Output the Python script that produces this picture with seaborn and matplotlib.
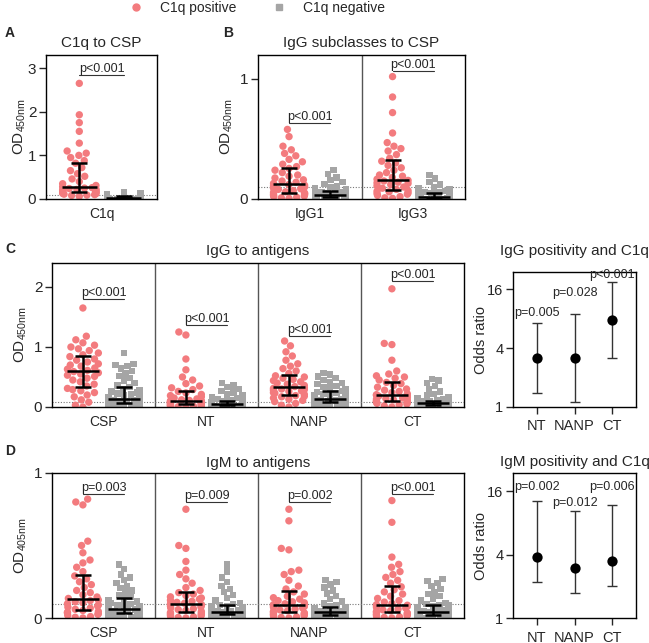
import numpy as np
import pandas as pd
import matplotlib
matplotlib.use("Agg")
import matplotlib.pyplot as plt
from matplotlib.lines import Line2D
from matplotlib.ticker import NullLocator
import seaborn as sns
import warnings
warnings.filterwarnings("ignore")

# ---------------- data ----------------
GROUPS = ["C1q positive", "C1q negative"]

# A: C1q to CSP
c1q_pos = [0.06,0.08,0.09,0.10,0.11,0.12,0.13,0.14,0.15,0.16,
           0.17,0.18,0.19,0.20,0.21,0.22,0.23,0.24,0.25,0.26,
           0.28,0.31,0.35,0.40,0.46,0.52,0.58,0.65,0.72,0.82,
           0.88,0.95,1.00,1.05,1.10,1.28,1.55,1.75,1.93,2.65]
c1q_neg = [0.000,0.002,0.004,0.005,0.006,0.007,0.008,0.008,0.009,0.009,0.010,0.010,
           0.012,0.014,0.016,0.018,0.020,0.021,0.022,0.024,0.025,0.026,0.028,0.030,
           0.031,0.033,0.035,0.037,0.040,0.042,0.045,0.047,0.050,0.053,0.056,0.060,
           0.062,0.065,0.068,0.072,0.076,0.080,0.085,0.090,0.098,0.110,0.125,0.150]

# B: IgG subclasses to CSP
igg1_pos = [0.005,0.01,0.015,0.02,0.025,0.03,0.035,0.04,0.045,0.05,
            0.055,0.06,0.07,0.08,0.085,0.09,0.10,0.11,0.115,0.12,
            0.13,0.14,0.15,0.16,0.175,0.19,0.20,0.22,0.24,0.255,
            0.27,0.29,0.31,0.33,0.36,0.38,0.41,0.44,0.52,0.58]
igg1_neg = [0.000,0.002,0.004,0.005,0.006,0.008,0.009,0.010,0.011,0.012,0.013,0.015,
            0.016,0.017,0.018,0.019,0.020,0.022,0.023,0.024,0.025,0.026,0.028,0.029,
            0.031,0.033,0.035,0.037,0.040,0.043,0.046,0.050,0.053,0.056,0.060,0.064,
            0.070,0.075,0.080,0.090,0.100,0.110,0.125,0.140,0.160,0.180,0.210,0.240]
igg3_pos = [0.005,0.01,0.02,0.03,0.04,0.045,0.05,0.06,0.065,0.07,
            0.08,0.09,0.10,0.11,0.12,0.13,0.135,0.14,0.15,0.155,
            0.165,0.18,0.19,0.20,0.22,0.24,0.26,0.28,0.30,0.315,
            0.34,0.37,0.40,0.42,0.44,0.47,0.55,0.72,0.85,1.02]
igg3_neg = [0.000,0.001,0.002,0.003,0.004,0.004,0.005,0.005,0.006,0.006,0.007,0.008,
            0.009,0.010,0.011,0.012,0.013,0.014,0.015,0.016,0.017,0.018,0.019,0.020,
            0.021,0.023,0.025,0.027,0.029,0.031,0.033,0.035,0.037,0.040,0.042,0.045,
            0.050,0.055,0.060,0.065,0.072,0.080,0.090,0.100,0.120,0.140,0.170,0.200]

# C: IgG to antigens
igg_csp_pos = [0.00,0.03,0.08,0.12,0.17,0.20,0.24,0.27,0.29,0.31,
               0.35,0.38,0.42,0.45,0.48,0.51,0.53,0.55,0.57,0.59,
               0.61,0.63,0.65,0.68,0.70,0.72,0.75,0.78,0.80,0.84,
               0.87,0.90,0.94,0.97,1.00,1.03,1.07,1.12,1.18,1.65]
igg_csp_neg = [0.000,0.005,0.010,0.015,0.020,0.025,0.030,0.035,0.040,0.045,0.050,0.058,
               0.065,0.072,0.080,0.088,0.095,0.100,0.105,0.110,0.118,0.125,0.130,0.138,
               0.145,0.155,0.165,0.180,0.195,0.210,0.225,0.240,0.260,0.280,0.300,0.330,
               0.360,0.400,0.440,0.480,0.520,0.560,0.600,0.640,0.680,0.700,0.720,0.900]
igg_nt_pos = [0.000,0.005,0.010,0.015,0.020,0.025,0.030,0.035,0.040,0.048,
              0.055,0.060,0.065,0.070,0.075,0.080,0.085,0.090,0.095,0.098,
              0.102,0.110,0.120,0.135,0.150,0.170,0.190,0.210,0.235,0.260,
              0.29,0.32,0.35,0.39,0.45,0.50,0.62,0.80,1.20,1.25]
igg_nt_neg = [0.000,0.004,0.008,0.012,0.015,0.018,0.020,0.022,0.024,0.026,0.028,0.030,
              0.032,0.034,0.036,0.038,0.040,0.042,0.043,0.044,0.045,0.046,0.048,0.049,
              0.051,0.053,0.055,0.058,0.061,0.065,0.070,0.075,0.080,0.085,0.090,0.098,
              0.110,0.130,0.150,0.170,0.190,0.210,0.240,0.270,0.300,0.330,0.360,0.400]
igg_nanp_pos = [0.00,0.03,0.06,0.09,0.11,0.13,0.15,0.17,0.18,0.19,
                0.21,0.23,0.24,0.26,0.27,0.28,0.29,0.30,0.31,0.32,
                0.34,0.36,0.38,0.40,0.42,0.44,0.46,0.48,0.50,0.52,
                0.56,0.60,0.64,0.68,0.72,0.78,0.85,0.92,1.02,1.10]
igg_nanp_neg = [0.000,0.008,0.015,0.022,0.030,0.038,0.045,0.052,0.060,0.066,0.072,0.078,
                0.084,0.090,0.095,0.100,0.104,0.108,0.112,0.116,0.120,0.124,0.127,0.129,
                0.131,0.140,0.150,0.160,0.170,0.180,0.190,0.200,0.215,0.230,0.250,0.265,
                0.290,0.310,0.330,0.350,0.380,0.400,0.420,0.450,0.480,0.510,0.540,0.570]
igg_ct_pos = [0.00,0.02,0.04,0.05,0.06,0.07,0.08,0.09,0.095,0.098,
              0.11,0.12,0.13,0.14,0.15,0.16,0.17,0.18,0.19,0.195,
              0.205,0.22,0.24,0.26,0.28,0.30,0.33,0.36,0.39,0.41,
              0.45,0.48,0.50,0.52,0.55,0.60,0.78,1.04,1.06,1.97]
igg_ct_neg = [0.000,0.004,0.008,0.012,0.015,0.018,0.021,0.023,0.025,0.027,0.029,0.030,
              0.034,0.038,0.042,0.046,0.050,0.054,0.057,0.060,0.063,0.065,0.067,0.069,
              0.071,0.073,0.075,0.077,0.079,0.081,0.084,0.087,0.090,0.093,0.096,0.099,
              0.110,0.125,0.140,0.160,0.190,0.220,0.260,0.300,0.350,0.400,0.440,0.470]

# D: IgM to antigens
igm_csp_pos = [0.000,0.005,0.010,0.018,0.025,0.030,0.035,0.040,0.045,0.052,
               0.060,0.068,0.075,0.082,0.090,0.098,0.105,0.112,0.120,0.125,
               0.135,0.145,0.160,0.175,0.190,0.210,0.230,0.250,0.270,0.290,
               0.320,0.350,0.380,0.400,0.450,0.500,0.530,0.780,0.800,0.820]
igm_csp_neg = [0.000,0.004,0.008,0.012,0.016,0.020,0.023,0.026,0.029,0.031,0.033,0.035,
               0.037,0.039,0.041,0.043,0.045,0.048,0.051,0.054,0.056,0.058,0.060,0.061,
               0.063,0.066,0.070,0.075,0.080,0.085,0.090,0.097,0.105,0.113,0.122,0.132,
               0.145,0.160,0.175,0.190,0.205,0.220,0.240,0.260,0.280,0.300,0.340,0.370]
igm_nt_pos = [0.000,0.004,0.008,0.012,0.016,0.020,0.025,0.030,0.034,0.038,
              0.045,0.052,0.058,0.064,0.070,0.076,0.082,0.088,0.093,0.098,
              0.102,0.108,0.115,0.122,0.130,0.138,0.146,0.155,0.165,0.175,
              0.190,0.210,0.240,0.270,0.300,0.330,0.390,0.480,0.500,0.750]
igm_nt_neg = [0.000,0.003,0.006,0.009,0.012,0.014,0.016,0.018,0.020,0.022,0.023,0.024,
              0.026,0.028,0.029,0.030,0.032,0.033,0.034,0.035,0.036,0.037,0.038,0.039,
              0.041,0.043,0.046,0.050,0.054,0.058,0.063,0.068,0.073,0.078,0.083,0.088,
              0.095,0.105,0.120,0.140,0.160,0.180,0.200,0.220,0.250,0.280,0.320,0.370]
igm_nanp_pos = [0.000,0.004,0.008,0.012,0.016,0.020,0.024,0.028,0.031,0.034,
                0.040,0.045,0.050,0.056,0.062,0.068,0.074,0.080,0.085,0.088,
                0.092,0.098,0.105,0.112,0.120,0.130,0.140,0.150,0.165,0.180,
                0.200,0.220,0.260,0.300,0.320,0.330,0.470,0.480,0.670,0.750]
igm_nanp_neg = [0.000,0.002,0.004,0.006,0.008,0.010,0.012,0.013,0.014,0.016,0.018,0.020,
                0.022,0.024,0.026,0.028,0.030,0.032,0.033,0.034,0.035,0.037,0.038,0.039,
                0.041,0.043,0.046,0.049,0.052,0.055,0.058,0.061,0.064,0.067,0.070,0.074,
                0.080,0.090,0.100,0.115,0.130,0.150,0.170,0.190,0.210,0.230,0.250,0.260]
igm_ct_pos = [0.000,0.004,0.008,0.012,0.016,0.020,0.024,0.028,0.031,0.034,
              0.040,0.045,0.050,0.056,0.062,0.068,0.074,0.080,0.085,0.088,
              0.092,0.100,0.110,0.120,0.135,0.150,0.165,0.180,0.195,0.215,
              0.240,0.260,0.280,0.300,0.320,0.350,0.370,0.420,0.660,0.810]
igm_ct_neg = [0.000,0.002,0.004,0.006,0.008,0.010,0.012,0.013,0.014,0.016,0.018,0.020,
              0.022,0.024,0.026,0.028,0.030,0.032,0.033,0.034,0.035,0.037,0.038,0.039,
              0.041,0.044,0.048,0.052,0.056,0.060,0.065,0.070,0.075,0.080,0.085,0.089,
              0.095,0.105,0.120,0.135,0.150,0.165,0.180,0.200,0.220,0.240,0.255,0.270]

antigens = ["CSP", "NT", "NANP", "CT"]
igg_p = ["p<0.001", "p<0.001", "p<0.001", "p<0.001"]
igm_p = ["p=0.003", "p=0.009", "p=0.002", "p<0.001"]

# Odds ratios
or_cats = ["NT", "NANP", "CT"]
igg_or = [3.2, 3.2, 7.7]
igg_or_lo = [1.39, 1.12, 3.2]
igg_or_hi = [7.2, 8.9, 18.9]
igg_or_p = ["p=0.005", "p=0.028", "p<0.001"]
igm_or = [3.8, 3.0, 3.46]
igm_or_lo = [2.2, 1.74, 2.03]
igm_or_hi = [13.0, 10.5, 12.0]
igm_or_p = ["p=0.002", "p=0.012", "p=0.006"]

# ---------------- style ----------------
sns.set_theme(style="ticks")
plt.rcParams["font.family"] = ["Liberation Sans", "DejaVu Sans"]
plt.rcParams["mathtext.fontset"] = "custom"
plt.rcParams["mathtext.rm"] = "Liberation Sans"
plt.rcParams["mathtext.it"] = "Liberation Sans"
plt.rcParams["axes.linewidth"] = 1.0

POS_COLOR = "#F37B7E"
NEG_COLOR = "#A5A5A5"
PAL = {GROUPS[0]: POS_COLOR, GROUPS[1]: NEG_COLOR}
OD450 = r"OD$_{\mathregular{450nm}}$"
OD405 = r"OD$_{\mathregular{405nm}}$"
SWARM_HALF = 0.15

W, H = 649, 643
fig = plt.figure(figsize=(W / 100, H / 100), dpi=100)
SWARMS = []  # (collection, centre offset)


def box(x0, y0, x1, y1):
    return fig.add_axes([x0 / W, 1 - y1 / H, (x1 - x0) / W, (y1 - y0) / H])


def swarm_panel(ax, cats, pos_lists, neg_lists, ymax, yticks, cutoff,
                pvals, pheights, title, ylabel, ylab_x, title_pad=6):
    rows = []
    for c, p, n in zip(cats, pos_lists, neg_lists):
        rows += [(c, GROUPS[0], v) for v in p]
        rows += [(c, GROUPS[1], v) for v in n]
    df = pd.DataFrame(rows, columns=["antigen", "group", "od"])
    for g, mk, sz, off in [(GROUPS[0], "o", 5.3, -0.2), (GROUPS[1], "s", 4.6, 0.2)]:
        n_before = len(ax.collections)
        sns.swarmplot(data=df[df.group == g], x="antigen", y="od", hue="group",
                      hue_order=GROUPS, order=cats, dodge=True, palette=PAL,
                      marker=mk, size=sz, linewidth=0, ax=ax, legend=False,
                      warn_thresh=1.0, zorder=2)
        for coll in ax.collections[n_before:]:
            SWARMS.append((coll, off))
    for i, (p, n) in enumerate(zip(pos_lists, neg_lists)):
        for off, vals in [(-0.2, p), (0.2, n)]:
            q1, med, q3 = np.percentile(vals, [25, 50, 75])
            ax.errorbar(i + off, med, yerr=[[med - q1], [q3 - med]], fmt="none",
                        ecolor="black", elinewidth=1.8, capsize=6, capthick=1.8,
                        zorder=5)
            ax.hlines(med, i + off - 0.155, i + off + 0.155, color="black",
                      lw=1.8, zorder=5)
    for i in range(len(cats) - 1):
        ax.axvline(i + 0.5, color="#555555", lw=1.0, zorder=1)
    ax.axhline(cutoff, color="#777777", lw=0.8, ls=(0, (1, 1.5)), zorder=1)
    for i, (s, h) in enumerate(zip(pvals, pheights)):
        ax.plot([i - 0.2, i + 0.2], [h, h], color="#333333", lw=0.8)
        ax.text(i, h, s, ha="center", va="bottom", fontsize=9)
    ax.set_xlim(-0.5, len(cats) - 0.5)
    ax.set_ylim(0, ymax)
    ax.set_yticks(yticks)
    ax.set_yticklabels([str(t) for t in yticks])
    ax.tick_params(axis="x", length=0, labelsize=10, pad=6)
    ax.tick_params(axis="y", length=5, width=1, labelsize=11, pad=2)
    ax.set_xlabel("")
    ax.set_ylabel(ylabel, fontsize=11)
    ax.yaxis.set_label_coords(ylab_x, 0.5)
    for sp in ax.spines.values():
        sp.set_visible(True)
        sp.set_color("black")
        sp.set_linewidth(1.0)
    ax.set_title(title, fontsize=11, pad=title_pad)


def or_panel(ax, cats, ors, lo, hi, ptxt, pys, title, title_pad):
    x = np.arange(len(cats))
    ors = np.array(ors)
    ax.errorbar(x, ors, yerr=[ors - np.array(lo), np.array(hi) - ors], fmt="none",
                ecolor="#333333", elinewidth=1.0, capsize=3.5, capthick=1.0, zorder=3)
    sns.scatterplot(x=x, y=ors, color="black", s=55, edgecolor="black",
                    linewidth=0, ax=ax, zorder=5, legend=False)
    for xi, s, yv in zip(x, ptxt, pys):
        ax.text(xi, yv, s, ha="center", va="bottom", fontsize=9)
    ax.set_yscale("log", base=2)
    ax.set_ylim(1, 24)
    ax.set_yticks([1, 4, 16])
    ax.set_yticklabels(["1", "4", "16"])
    ax.yaxis.set_minor_locator(NullLocator())
    ax.set_xticks(x)
    ax.set_xticklabels(cats)
    ax.set_xlim(-0.64, len(cats) - 0.36)
    ax.tick_params(axis="x", length=5, width=1, labelsize=10.5, pad=4)
    ax.tick_params(axis="y", length=5, width=1, labelsize=10.5, pad=2)
    ax.set_ylabel("Odds ratio", fontsize=10.5)
    ax.yaxis.set_label_coords(-0.2, 0.5)
    for sp in ax.spines.values():
        sp.set_visible(True)
        sp.set_color("black")
        sp.set_linewidth(1.0)
    ax.set_title(title, fontsize=11, pad=title_pad)


# Panel A
axA = box(46, 55, 157, 199)
swarm_panel(axA, ["C1q"], [c1q_pos], [c1q_neg], 3.3, [0, 1, 2, 3], 0.09,
            ["p<0.001"], [2.84], "C1q to CSP", OD450, -0.16)

# Panel B
axB = box(258, 55, 465, 199)
swarm_panel(axB, ["IgG1", "IgG3"], [igg1_pos, igg3_pos], [igg1_neg, igg3_neg],
            1.2, [0, 1], 0.1, ["p<0.001", "p<0.001"], [0.63, 1.07],
            "IgG subclasses to CSP", OD450, -0.11)

# Panel C
axC = box(52, 263, 464, 407)
swarm_panel(axC, antigens,
            [igg_csp_pos, igg_nt_pos, igg_nanp_pos, igg_ct_pos],
            [igg_csp_neg, igg_nt_neg, igg_nanp_neg, igg_ct_neg],
            2.4, [0, 1, 2], 0.08, igg_p, [1.8, 1.37, 1.18, 2.1],
            "IgG to antigens", OD450, -0.057)

# Panel C right
axCr = box(513, 272, 636, 407)
or_panel(axCr, or_cats, igg_or, igg_or_lo, igg_or_hi, igg_or_p,
         [8.0, 12.8, 19.3], "IgG positivity and C1q", 12)

# Panel D
axD = box(52, 473, 464, 618)
swarm_panel(axD, antigens,
            [igm_csp_pos, igm_nt_pos, igm_nanp_pos, igm_ct_pos],
            [igm_csp_neg, igm_nt_neg, igm_nanp_neg, igm_ct_neg],
            1.0, [0, 1], 0.1, igm_p, [0.855, 0.8, 0.8, 0.855],
            "IgM to antigens", OD405, -0.057, title_pad=4)

# Panel D right
axDr = box(513, 473, 636, 618)
or_panel(axDr, or_cats, igm_or, igm_or_lo, igm_or_hi, igm_or_p,
         [15.5, 11.0, 15.5], "IgM positivity and C1q", 5)

# Panel letters
for lab, (px, py) in {"A": (5, 33), "B": (223, 33), "C": (5, 249), "D": (5, 451)}.items():
    fig.text(px / W, 1 - py / H, lab, fontsize=10, fontweight="bold",
             ha="left", va="center")

# Legend
handles = [Line2D([], [], ls="none", marker="o", color=POS_COLOR, markersize=5),
           Line2D([], [], ls="none", marker="s", color=NEG_COLOR, markersize=4.5)]
fig.legend(handles, GROUPS, loc="center", bbox_to_anchor=(255 / W, 1 - 8 / H),
           ncol=2, frameon=False, fontsize=10, handletextpad=1.0,
           columnspacing=2.3, handlelength=1.5)

# Let seaborn lay out the swarms once, then keep each swarm in a narrow band
fig.canvas.draw()
for coll, off in SWARMS:
    offs = np.asarray(coll.get_offsets(), dtype=float).copy()
    if "draw" in coll.__dict__:
        del coll.__dict__["draw"]
    if len(offs) == 0:
        continue
    centre = np.round(offs[:, 0] - off) + off
    offs[:, 0] = centre + np.clip(offs[:, 0] - centre, -SWARM_HALF, SWARM_HALF)
    coll.set_offsets(offs)

fig.savefig("out.png", dpi=100)
